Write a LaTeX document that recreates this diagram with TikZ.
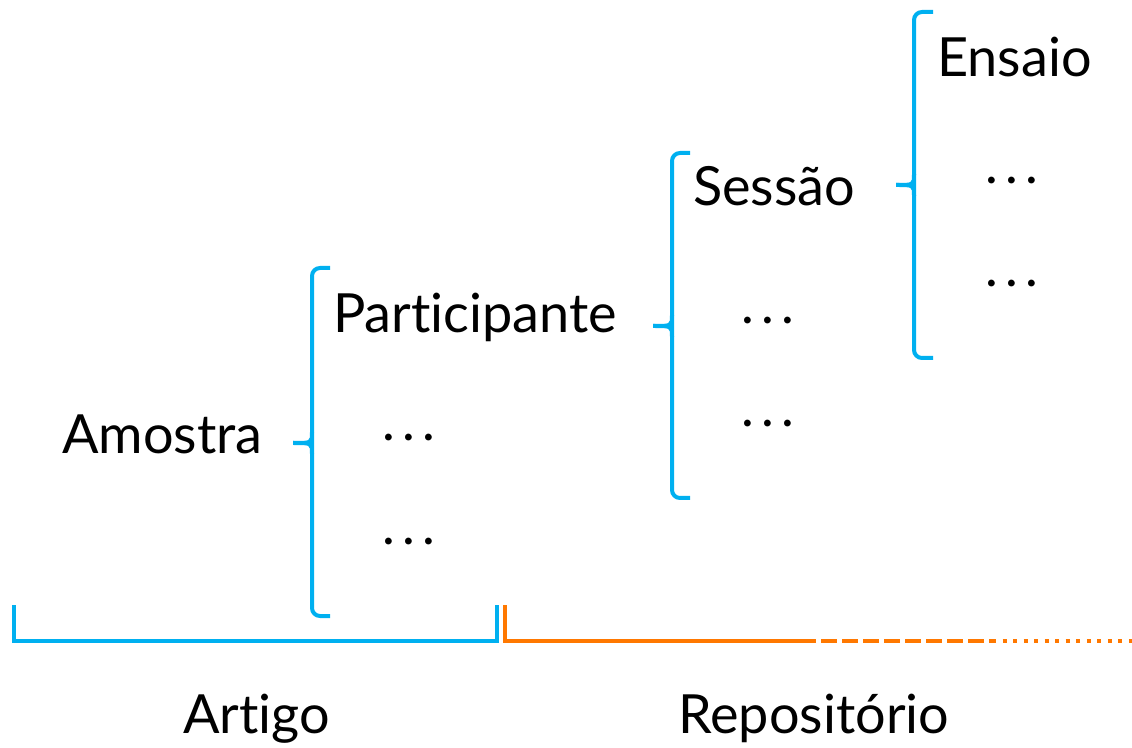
\documentclass[tikz,border=0pt]{standalone}
\usepackage{fontspec}
\setmainfont{Lato}[Ligatures={NoCommon}]
\definecolor{bblue}{RGB}{0,176,240}
\definecolor{borange}{RGB}{255,120,0}
\newcommand{\tdots}{\makebox[15pt]{.}\makebox[15pt]{.}\makebox[15pt]{.}}
\begin{document}
\begin{tikzpicture}[x=0.75pt,y=-0.75pt,
  lbl/.style={anchor=base west,inner sep=0pt,font=\fontsize{40.5pt}{45pt}\selectfont},
  brc/.style={draw=bblue,line width=3pt,rounded corners=6pt},
  bar/.style={line width=3pt}]
\useasboundingbox (0,0) rectangle (1132,748);
% labels
\node[lbl] (amostra) at (62,454) {Amostra};
\node[lbl] (part) at (333,333) {Participante};
\node[lbl] (sessao) at (693,206) {Sessão};
\node[lbl] (ensaio) at (937,77) {Ensaio};
\node[lbl] (artigo) at (183,733) {Artigo};
\node[lbl] (repo) at (678,733) {Repositório};
% dots
\node[lbl] (d1) at (379,441) {\tdots};
\node[lbl] (d2) at (379,544) {\tdots};
\node[lbl] (d3) at (738,324) {\tdots};
\node[lbl] (d4) at (738,427) {\tdots};
\node[lbl] (d5) at (982,184) {\tdots};
\node[lbl] (d6) at (982,287) {\tdots};
% braces
\draw[brc] (330,268) -- (312,268) -- (312,616) -- (330,616);
\draw[draw=bblue,line width=3pt] (312,432) .. controls (312,443) .. (293,443);
\draw[draw=bblue,line width=3pt] (312,454) .. controls (312,443) .. (293,443);
\draw[brc] (690,153) -- (672,153) -- (672,498) -- (690,498);
\draw[draw=bblue,line width=3pt] (672,315) .. controls (672,326) .. (653,326);
\draw[draw=bblue,line width=3pt] (672,337) .. controls (672,326) .. (653,326);
\draw[brc] (933,12) -- (914,12) -- (914,358) -- (933,358);
\draw[draw=bblue,line width=3pt] (914,174) .. controls (914,185) .. (896,185);
\draw[draw=bblue,line width=3pt] (914,196) .. controls (914,185) .. (896,185);
% bottom bars
\draw[bar,draw=bblue] (14,605) -- (14,641) -- (497,641) -- (497,605);
\draw[bar,draw=borange] (505,605) -- (505,641) -- (800,641);
\draw[bar,draw=borange,dash pattern=on 12pt off 3.75pt] (800,641) -- (992,641);
\draw[bar,draw=borange,dash pattern=on 3pt off 4.9pt] (992,641) -- (1132,641);
\end{tikzpicture}
\end{document}
